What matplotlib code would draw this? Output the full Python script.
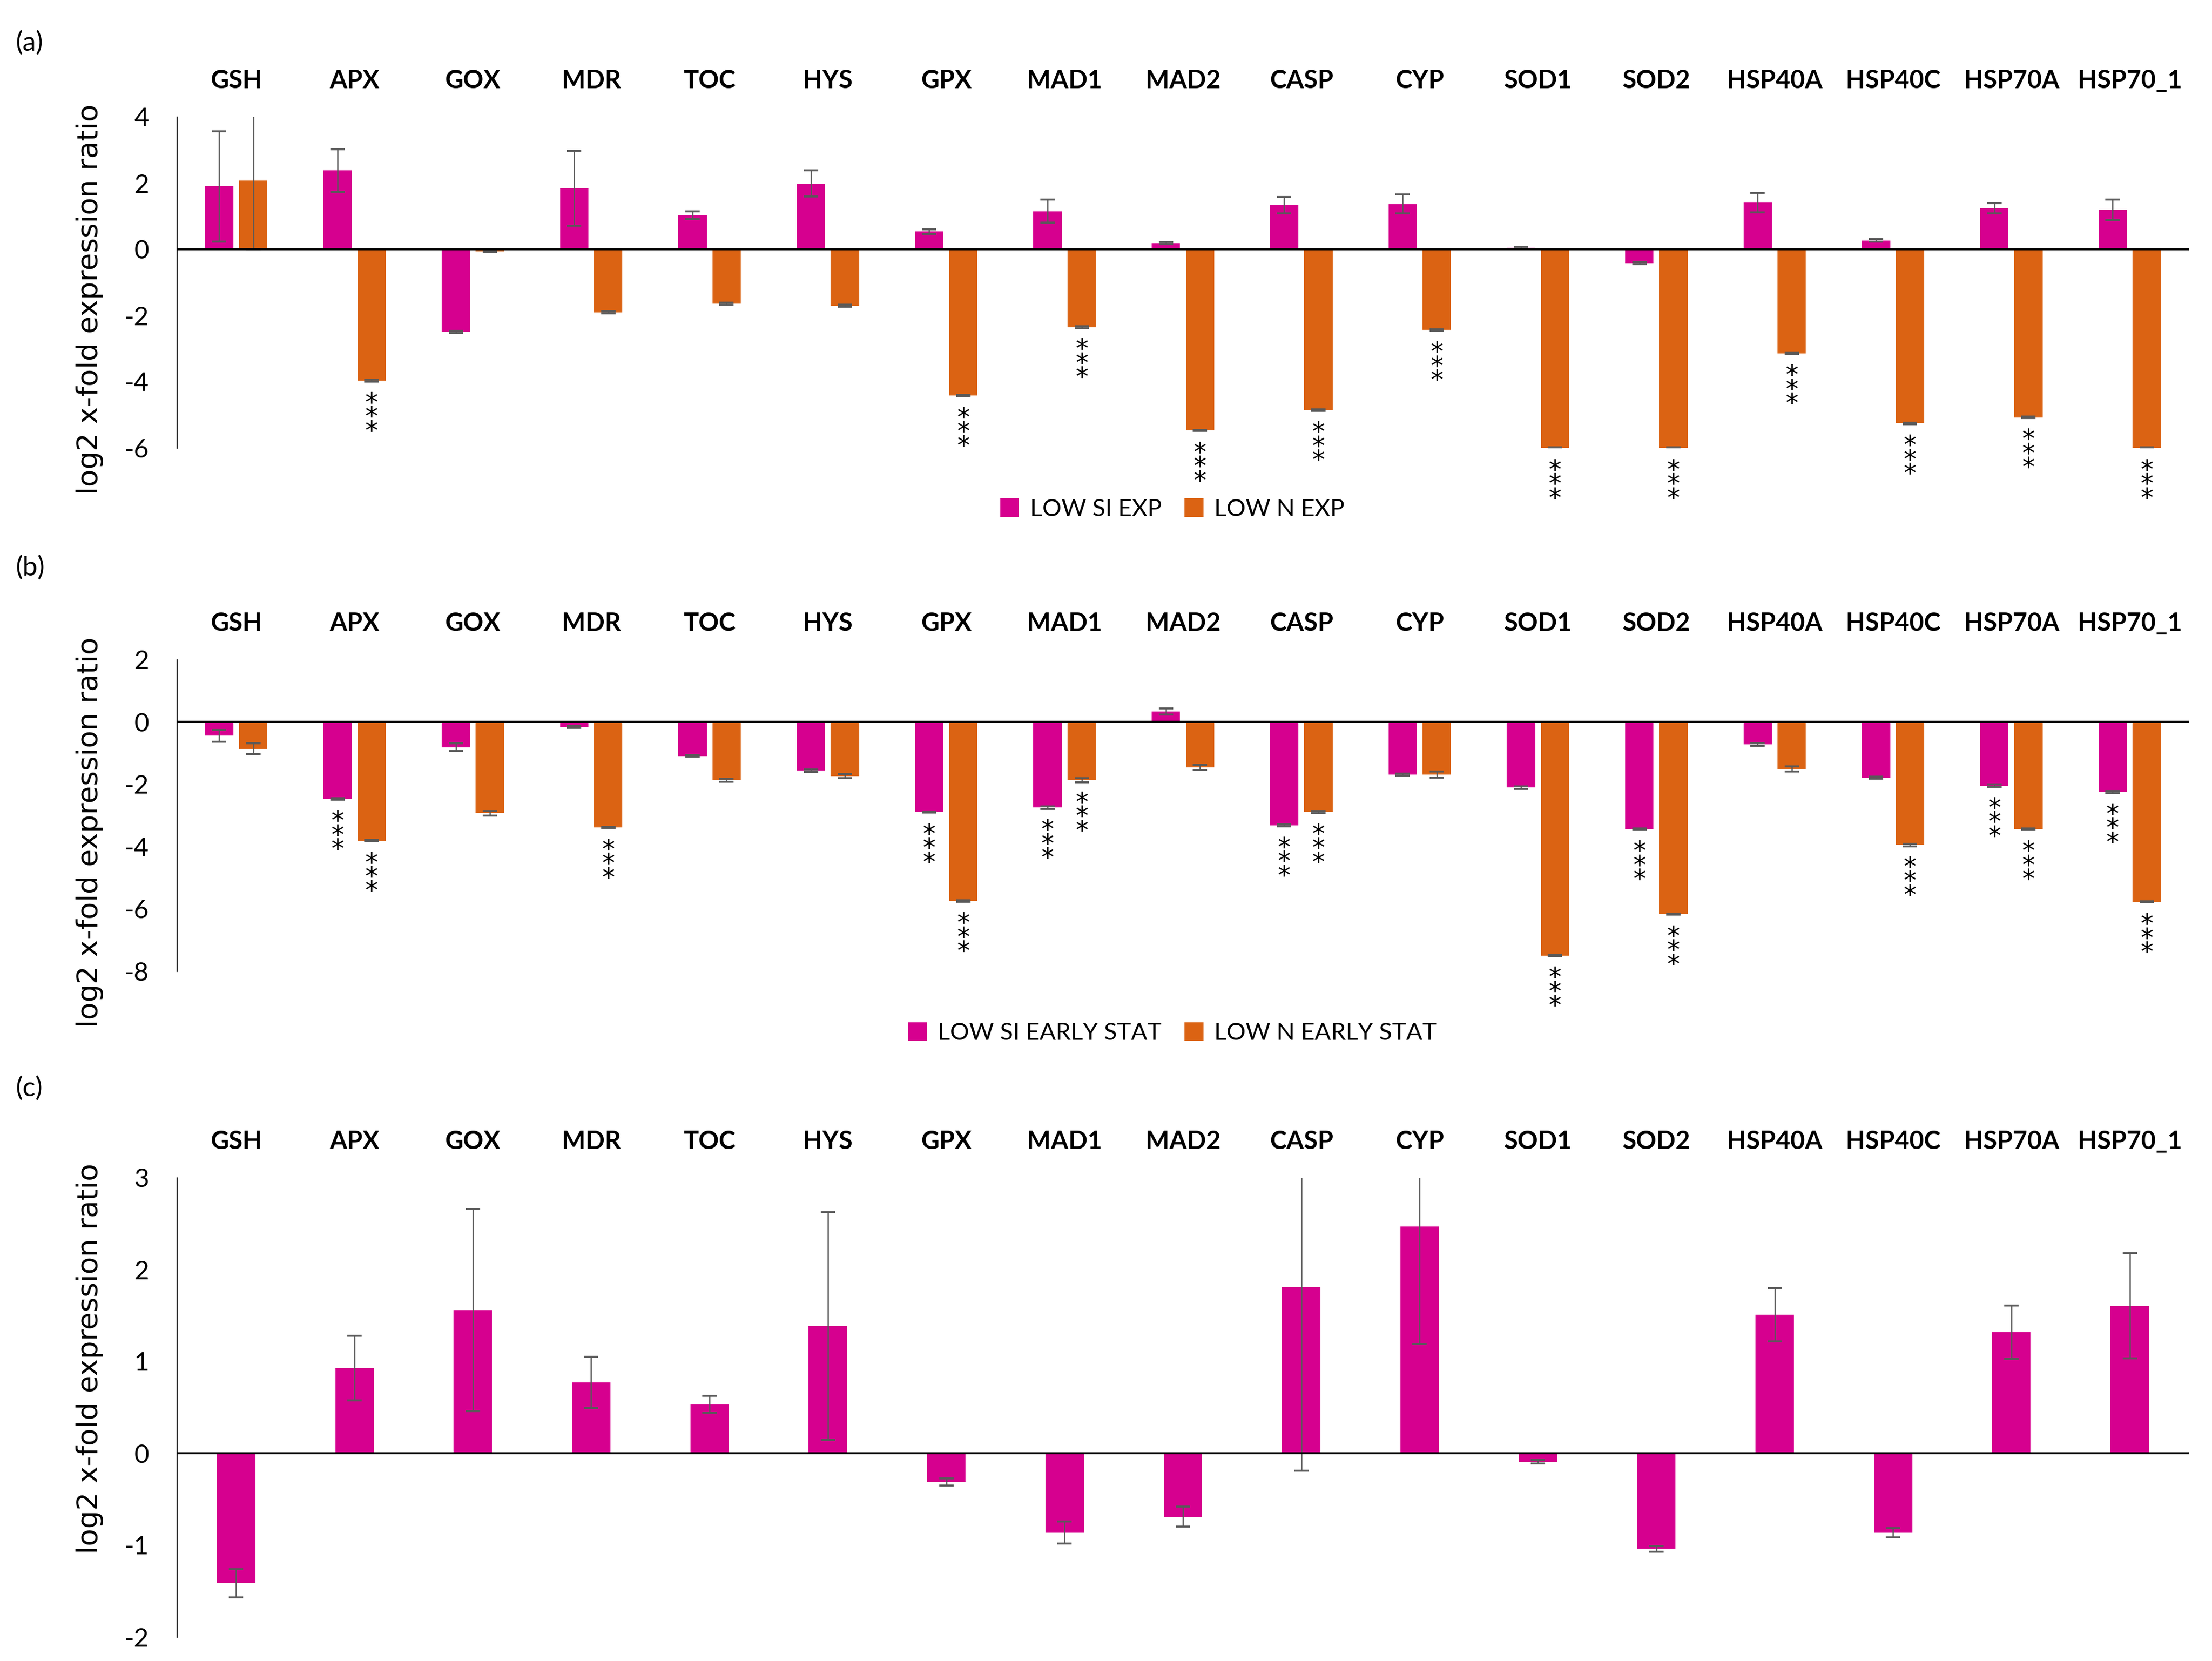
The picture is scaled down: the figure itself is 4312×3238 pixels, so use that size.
import matplotlib
matplotlib.use("Agg")
import matplotlib.pyplot as plt
from matplotlib.patches import Patch
import numpy as np

plt.rcParams['font.family'] = ['Lato', 'DejaVu Sans']

genes = ["GSH", "APX", "GOX", "MDR", "TOC", "HYS", "GPX", "MAD1", "MAD2",
         "CASP", "CYP", "SOD1", "SOD2", "HSP40A", "HSP40C", "HSP70A", "HSP70_1"]

# Panel (a) - exponential phase
a_si = [1.90, 2.38, -2.49, 1.85, 1.03, 1.99, 0.54, 1.15, 0.19, 1.33, 1.37, 0.05, -0.42, 1.41, 0.27, 1.24, 1.19]
a_si_err = [1.67, 0.65, 0.03, 1.13, 0.12, 0.40, 0.07, 0.35, 0.03, 0.25, 0.29, 0.03, 0.03, 0.29, 0.04, 0.16, 0.31]
a_n = [2.07, -3.97, -0.06, -1.91, -1.65, -1.70, -4.42, -2.35, -5.47, -4.86, -2.44, -6.0, -6.0, -3.14, -5.26, -5.08, -6.0]
a_n_err = [2.07, 0.03, 0.01, 0.03, 0.03, 0.03, 0.02, 0.03, 0.02, 0.03, 0.02, 0.02, 0.02, 0.02, 0.02, 0.02, 0.02]
a_si_sig = [0] * 17
a_n_sig = [0, 1, 0, 0, 0, 0, 1, 1, 1, 1, 1, 1, 1, 1, 1, 1, 1]

# Panel (b) - early stationary phase
b_si = [-0.44, -2.47, -0.81, -0.16, -1.09, -1.56, -2.89, -2.75, 0.34, -3.32, -1.69, -2.11, -3.44, -0.72, -1.79, -2.05, -2.25]
b_si_err = [0.19, 0.03, 0.12, 0.03, 0.03, 0.04, 0.02, 0.04, 0.10, 0.03, 0.04, 0.04, 0.02, 0.04, 0.04, 0.04, 0.04]
b_n = [-0.86, -3.81, -2.93, -3.39, -1.87, -1.74, -5.75, -1.87, -1.46, -2.89, -1.69, -7.50, -6.17, -1.51, -3.95, -3.44, -5.78]
b_n_err = [0.17, 0.03, 0.07, 0.02, 0.05, 0.06, 0.03, 0.07, 0.08, 0.03, 0.10, 0.02, 0.02, 0.08, 0.04, 0.02, 0.02]
b_si_sig = [0, 1, 0, 0, 0, 0, 1, 1, 0, 1, 0, 0, 1, 0, 0, 1, 1]
b_n_sig = [0, 1, 0, 1, 0, 0, 1, 1, 0, 1, 0, 1, 1, 0, 1, 1, 1]

# Panel (c)
c_val = [-1.415, 0.928, 1.56, 0.771, 0.534, 1.386, -0.314, -0.864, -0.69, 1.81, 2.47, -0.093, -1.04, 1.51, -0.864, 1.32, 1.606]
c_err = [0.155, 0.354, 1.10, 0.28, 0.09, 1.24, 0.04, 0.12, 0.11, 2.0, 1.28, 0.02, 0.03, 0.29, 0.05, 0.29, 0.575]

PINK = "#D6008F"
ORANGE = "#DB6313"
ECOL = "#595959"

W, H, DPI = 4312, 3238, 300
fig = plt.figure(figsize=(W / DPI, H / DPI), dpi=DPI)

left = 345 / W
width = (4267 - 345) / W


def make_ax(top_px, bot_px):
    return fig.add_axes([left, 1 - bot_px / H, width, (bot_px - top_px) / H])


def style(ax, ylim, yticks):
    ax.set_xlim(-0.5, len(genes) - 0.5)
    ax.set_ylim(*ylim)
    ax.set_yticks(yticks)
    ax.set_yticklabels([str(t) for t in yticks])
    for s in ["top", "right", "bottom"]:
        ax.spines[s].set_visible(False)
    ax.spines["left"].set_linewidth(0.6)
    ax.spines["left"].set_color("#222222")
    ax.tick_params(axis="y", length=0, pad=13, labelsize=12)
    ax.set_xticks(np.arange(len(genes)))
    ax.set_xticklabels(genes, fontweight="bold", fontsize=11.8)
    ax.xaxis.set_ticks_position("top")
    ax.tick_params(axis="x", length=0, pad=11.5)
    ax.axhline(0, color="black", lw=0.9, zorder=4)


def stars(ax, xs, vals, sig, ylim):
    for xi, v, s in zip(xs, vals, sig):
        if s:
            vv = max(v, ylim[0])
            ax.annotate("*\n*\n*", xy=(xi, vv), xytext=(0, -5.0),
                        textcoords="offset points", ha="center", va="top",
                        multialignment="center", linespacing=0.46,
                        fontsize=12, family="DejaVu Sans", annotation_clip=False)


def panel_pair(ax, si, si_err, n, n_err, si_sig, n_sig, ylim, labels):
    x = np.arange(len(genes))
    bw = 0.24
    off = 0.144
    ax.bar(x - off, si, bw, color=PINK, zorder=2, label=labels[0])
    ax.bar(x + off, n, bw, color=ORANGE, zorder=2, label=labels[1])
    ax.errorbar(x - off, si, yerr=si_err, fmt="none", ecolor=ECOL, elinewidth=0.6,
                capsize=3.4, capthick=0.9, zorder=3)
    ax.errorbar(x + off, n, yerr=n_err, fmt="none", ecolor=ECOL, elinewidth=0.6,
                capsize=3.4, capthick=0.9, zorder=3)
    stars(ax, x - off, si, si_sig, ylim)
    stars(ax, x + off, n, n_sig, ylim)


# ---- Panel (a)
ax_a = make_ax(228, 873)
style(ax_a, (-6, 4), [-6, -4, -2, 0, 2, 4])
panel_pair(ax_a, a_si, a_si_err, a_n, a_n_err, a_si_sig, a_n_sig, (-6, 4),
           ["LOW SI EXP", "LOW N EXP"])
ax_a.legend(handles=[Patch(color=PINK, label="LOW SI EXP"), Patch(color=ORANGE, label="LOW N EXP")],
            loc="center", bbox_to_anchor=(0.495, -0.186), ncol=2, frameon=False,
            fontsize=11.2, handlelength=0.7, handleheight=0.7, handletextpad=0.5,
            columnspacing=1.0)

# ---- Panel (b)
ax_b = make_ax(1286, 1893)
style(ax_b, (-8, 2), [-8, -6, -4, -2, 0, 2])
panel_pair(ax_b, b_si, b_si_err, b_n, b_n_err, b_si_sig, b_n_sig, (-8, 2),
           ["LOW SI EARLY STAT", "LOW N EARLY STAT"])
ax_b.legend(handles=[Patch(color=PINK, label="LOW SI EARLY STAT"), Patch(color=ORANGE, label="LOW N EARLY STAT")],
            loc="center", bbox_to_anchor=(0.495, -0.2), ncol=2, frameon=False,
            fontsize=11.2, handlelength=0.7, handleheight=0.7, handletextpad=0.5,
            columnspacing=1.0)

# ---- Panel (c)
ax_c = make_ax(2296, 3191)
style(ax_c, (-2, 3), [-2, -1, 0, 1, 2, 3])
xc = np.arange(len(genes))
ax_c.bar(xc, c_val, 0.325, color=PINK, zorder=2)
ax_c.errorbar(xc, c_val, yerr=c_err, fmt="none", ecolor=ECOL, elinewidth=0.6,
              capsize=3.4, capthick=0.9, zorder=3)

# y labels and panel letters
for yc in (583, 1622, 2648):
    fig.text(175 / W, 1 - yc / H, "log2 x-fold expression ratio", rotation=90,
             ha="center", va="center", fontsize=13.4, family="DejaVu Sans")
for lab, yc in (("(a)", 84), ("(b)", 1107), ("(c)", 2122)):
    fig.text(31 / W, 1 - yc / H, lab, ha="left", va="center", fontsize=12.5)

fig.savefig("out.png", dpi=DPI)
